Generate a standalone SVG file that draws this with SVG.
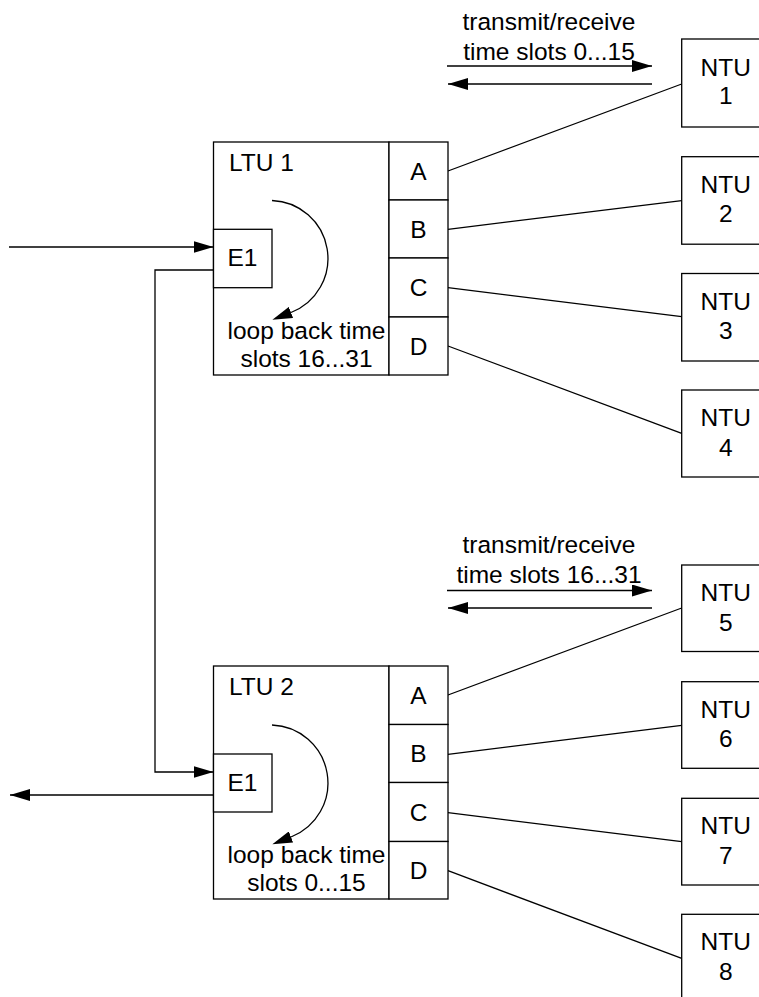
<svg xmlns="http://www.w3.org/2000/svg" width="759" height="997" viewBox="0 0 759 997">
<style>
.b{fill:#fff;stroke:#000;stroke-width:1.3}
.l{fill:none;stroke:#000;stroke-width:1.3}
text{font-family:"Liberation Sans",Arial,sans-serif;font-size:24.5px;fill:#000}
.m{text-anchor:middle}
</style>
<defs>
<marker id="a" markerUnits="userSpaceOnUse" markerWidth="20" markerHeight="12" refX="20" refY="6" orient="auto" viewBox="0 0 20 12"><path d="M0,0L20,6L0,12z" fill="#000"/></marker>
<marker id="ab" markerUnits="userSpaceOnUse" markerWidth="20" markerHeight="12" refX="0" refY="6" orient="auto" viewBox="0 0 20 12"><path d="M0,0L20,6L0,12z" fill="#000"/></marker>
</defs>
<rect width="759" height="997" fill="#fff"/>
<g id="connectors">
<path class="l" d="M447,66H652" marker-end="url(#a)"/>
<path class="l" d="M652,84H448" marker-end="url(#a)"/>
<path class="l" d="M447,590.5H652" marker-end="url(#a)"/>
<path class="l" d="M652,608H448" marker-end="url(#a)"/>
<path class="l" d="M9,247H213.5" marker-end="url(#a)"/>
<path class="l" d="M213.5,270H155V772H213.5" marker-end="url(#a)"/>
<path class="l" d="M213.5,795H10" marker-end="url(#a)"/>
<path class="l" d="M448,171L681.7,84"/>
<path class="l" d="M448,229.3L681.7,200.7"/>
<path class="l" d="M448,287.7L681.7,316.7"/>
<path class="l" d="M448,346L681.7,433.3"/>
<path class="l" d="M448,695L681.7,608"/>
<path class="l" d="M448,754.3L681.7,725.3"/>
<path class="l" d="M448,812.7L681.7,841.7"/>
<path class="l" d="M448,870.7L681.7,958.3"/>
</g>
<g id="ltu1">
<rect class="b" x="213.5" y="142" width="175.5" height="233"/>
<text x="229" y="170.5">LTU 1</text>
<path class="l" d="M272,200.5A58,58 0 0 1 291,312.5" marker-end="url(#ab)"/>
<text class="m" x="306.5" y="339">loop back time</text>
<text class="m" x="306.5" y="366.5">slots 16...31</text>
</g>
<g id="ltu1-e1"><rect class="b" x="213.5" y="229.3" width="58.5" height="58.4"/><text class="m" x="242.5" y="266">E1</text></g>
<g id="ltu1-a"><rect class="b" x="389" y="142" width="59" height="58"/><text class="m" x="418.5" y="179.5">A</text></g>
<g id="ltu1-b"><rect class="b" x="389" y="200" width="59" height="58"/><text class="m" x="418.5" y="237.5">B</text></g>
<g id="ltu1-c"><rect class="b" x="389" y="258" width="59" height="59"/><text class="m" x="418.5" y="296">C</text></g>
<g id="ltu1-d"><rect class="b" x="389" y="317" width="59" height="58"/><text class="m" x="418.5" y="354.5">D</text></g>
<g id="ltu2">
<rect class="b" x="213.5" y="666" width="175.5" height="233"/>
<text x="229" y="695">LTU 2</text>
<path class="l" d="M272,725A58,58 0 0 1 291,837" marker-end="url(#ab)"/>
<text class="m" x="306.5" y="863">loop back time</text>
<text class="m" x="306.5" y="891">slots 0...15</text>
</g>
<g id="ltu2-e1"><rect class="b" x="213.5" y="754" width="58.5" height="58"/><text class="m" x="242.5" y="790.5">E1</text></g>
<g id="ltu2-a"><rect class="b" x="389" y="666" width="59" height="58.5"/><text class="m" x="418.5" y="703.5">A</text></g>
<g id="ltu2-b"><rect class="b" x="389" y="724.5" width="59" height="58"/><text class="m" x="418.5" y="762">B</text></g>
<g id="ltu2-c"><rect class="b" x="389" y="782.5" width="59" height="59"/><text class="m" x="418.5" y="820.5">C</text></g>
<g id="ltu2-d"><rect class="b" x="389" y="841.5" width="59" height="57.5"/><text class="m" x="418.5" y="879">D</text></g>
<g id="label-top"><text class="m" x="549" y="29.5">transmit/receive</text><text class="m" x="549" y="59.5">time slots 0...15</text></g>
<g id="label-bottom"><text class="m" x="549" y="553">transmit/receive</text><text class="m" x="549" y="583">time slots 16...31</text></g>
<g id="ntu1"><rect class="b" x="681.7" y="39" width="88" height="88"/><text class="m" x="725.7" y="75.5">NTU</text><text class="m" x="725.7" y="104">1</text></g>
<g id="ntu2"><rect class="b" x="681.7" y="156.7" width="88" height="87.5"/><text class="m" x="725.7" y="192.7">NTU</text><text class="m" x="725.7" y="222">2</text></g>
<g id="ntu3"><rect class="b" x="681.7" y="273.5" width="88" height="87.5"/><text class="m" x="725.7" y="309.5">NTU</text><text class="m" x="725.7" y="339">3</text></g>
<g id="ntu4"><rect class="b" x="681.7" y="390" width="88" height="87"/><text class="m" x="725.7" y="426">NTU</text><text class="m" x="725.7" y="455.5">4</text></g>
<g id="ntu5"><rect class="b" x="681.7" y="565" width="88" height="86.5"/><text class="m" x="725.7" y="601">NTU</text><text class="m" x="725.7" y="630.5">5</text></g>
<g id="ntu6"><rect class="b" x="681.7" y="681.7" width="88" height="86.6"/><text class="m" x="725.7" y="717.5">NTU</text><text class="m" x="725.7" y="747">6</text></g>
<g id="ntu7"><rect class="b" x="681.7" y="798.3" width="88" height="86.7"/><text class="m" x="725.7" y="834">NTU</text><text class="m" x="725.7" y="863.5">7</text></g>
<g id="ntu8"><rect class="b" x="681.7" y="914.3" width="88" height="90"/><text class="m" x="725.7" y="950">NTU</text><text class="m" x="725.7" y="979.5">8</text></g>
</svg>
